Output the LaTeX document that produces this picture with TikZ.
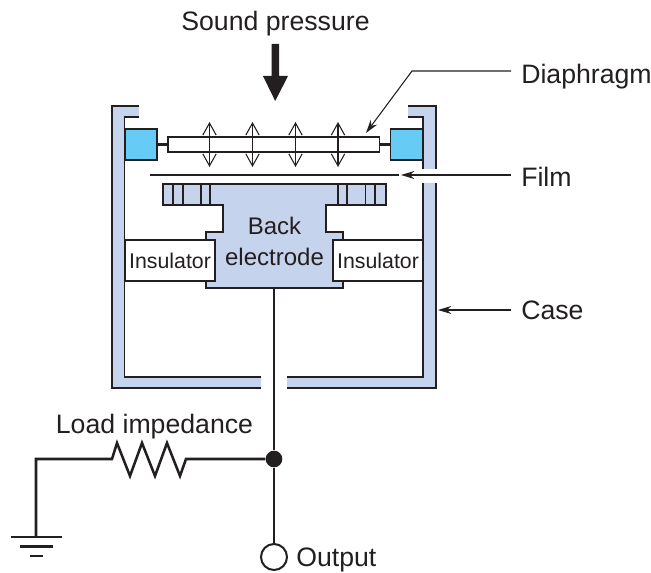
\documentclass[tikz,border=0pt]{standalone}
\usepackage{fontspec}
\setmainfont{Liberation Sans}
\usetikzlibrary{arrows.meta}
\definecolor{ink}{HTML}{231F20}
\definecolor{caseblue}{HTML}{C5D3EC}
\definecolor{padblue}{HTML}{66CCF5}
\tikzset{
  px/.style={x=0.75pt,y=-0.75pt},
  wire/.style={draw=ink,line width=1.9pt},
  thinline/.style={draw=ink,line width=1.1pt},
  leader/.style={draw=ink,line width=0.8pt,-{Stealth[length=10pt,width=6pt]}},
  motion/.style={draw=ink,line width=0.8pt,{Straight Barb[length=9pt,width=10pt]}-{Straight Barb[length=9pt,width=10pt]}},
  label/.style={font=\fontsize{20}{24}\selectfont,text=ink,inner sep=0pt},
  insul/.style={draw=ink,line width=1.1pt,fill=white,minimum width=67.5pt,minimum height=30.75pt,inner sep=0pt,
     font=\fontsize{16}{19}\selectfont,text=ink},
  pad/.style={draw=ink,line width=1.1pt,fill=padblue,minimum width=24pt,minimum height=23.5pt,inner sep=0pt},
  membrane/.style={draw=ink,line width=1.1pt,fill=white,minimum width=158.5pt,minimum height=11.25pt,inner sep=0pt}
}
\begin{document}
\begin{tikzpicture}[px]
\useasboundingbox (0,0) rectangle (651,573);
% case
\fill[caseblue] (139,106) -- (112,106) -- (112,388) -- (261,388) -- (261,377) -- (124.5,377) -- (124.5,117) -- (139,117) -- cycle;
\fill[caseblue] (408,106) -- (436,106) -- (436,169) -- (423,169) -- (423,117) -- (408,117) -- cycle;
\fill[caseblue] (436,183) -- (436,388) -- (287,388) -- (287,377) -- (423,377) -- (423,183) -- cycle;
\draw[draw=ink,line width=1.6pt] (139,106) -- (112,106) -- (112,388) -- (261,388);
\draw[thinline] (139,117) -- (124.5,117) -- (124.5,377) -- (261,377);
\draw[draw=ink,line width=1.6pt] (408,106) -- (436,106) -- (436,169);
\draw[thinline] (408,117) -- (423,117) -- (423,169);
\draw[draw=ink,line width=1.6pt] (436,183) -- (436,388) -- (287,388);
\draw[thinline] (423,183) -- (423,377) -- (287,377);
% back electrode
\draw[thinline,fill=caseblue] (163,184) -- (386,184) -- (386,205) -- (326,205) -- (326,232) -- (343,232) -- (343,288) -- (206,288) -- (206,232) -- (223,232) -- (223,205) -- (163,205) -- cycle;
\draw[thinline] (173,184) -- (173,205) (183,184) -- (183,205) (201,184) -- (201,205) (210,184) -- (210,205)
  (338,184) -- (338,205) (347,184) -- (347,205) (365.5,184) -- (365.5,205) (375,184) -- (375,205);
\node[insul] (insL) at (170,260.5) {Insulator};
\node[insul] (insR) at (378,260.5) {Insulator};
\node[font=\fontsize{18}{22}\selectfont,text=ink,inner sep=0pt,anchor=base] (back) at (274.5,235) {Back};
\node[font=\fontsize{18}{22}\selectfont,text=ink,inner sep=0pt,anchor=base] (elec) at (274.5,265.5) {electrode};
% diaphragm
\node[pad] (padL) at (141,144.5) {};
\node[pad] (padR) at (406.5,144.5) {};
\node[membrane] (diaph) at (273.7,144.5) {};
\draw[wire] (padL) -- (diaph);
\draw[wire] (diaph) -- (padR);
\foreach \n/\x in {a/209.5,b/252.5,c/295.5,d/338}{
  \coordinate (\n t) at (\x,122);
  \coordinate (\n b) at (\x,167);
  \draw[motion] (\n t) -- (\n b);
}
% film
\coordinate (filmL) at (150,175);
\coordinate (filmR) at (399,175);
\draw[draw=ink,line width=2.1pt] (filmL) -- (filmR);
% labels
\node[label,anchor=base] (sound) at (275.5,31) {Sound pressure};
\node[label,anchor=base west] (ldiaph) at (521,84) {Diaphragm};
\node[label,anchor=base west] (lfilm) at (521,186.5) {Film};
\node[label,anchor=base west] (lcase) at (521,320) {Case};
\node[label,anchor=base] (lload) at (154.5,434) {Load impedance};
% leaders
\coordinate (dbend) at (412,71);
\coordinate (dtip) at (366,133);
\coordinate (dstart) at (511,71);
\draw[leader] (dstart) -- (dbend) -- (dtip);
\coordinate (fstart) at (511,175);
\coordinate (ftip) at (401,175);
\draw[leader] (fstart) -- (ftip);
\coordinate (cstart) at (511,310);
\coordinate (ctip) at (438,310);
\draw[leader] (cstart) -- (ctip);
% sound arrow
\fill[ink] (271.5,44) -- (279,44) -- (279,76) -- (288,76) -- (275.2,101) -- (263,76) -- (271.5,76) -- cycle;
% circuit
\coordinate (eb) at (274,288);
\node[circle,fill=ink,minimum size=12.5pt,inner sep=0pt] (junction) at (274,459) {};
\node[circle,draw=ink,line width=1.5pt,fill=white,minimum size=19.5pt,inner sep=0pt] (out) at (274,557) {};
\node[label,anchor=base west] (lout) at (296,567) {Output};
\draw[wire] (eb) -- (junction);
\draw[wire] (junction) -- (out);
\coordinate (gnd) at (36,537);
\draw[wire,line join=miter] (gnd) -- (36,459) -- (112,459) -- (117,443) -- (130,476) -- (142,443) -- (155,476) -- (167,443) -- (180,476) -- (186,459) -- (junction);
\draw[wire] (11,537) -- (62,537);
\draw[wire] (20,546.5) -- (53,546.5);
\draw[wire] (30,556) -- (43,556);
\end{tikzpicture}
\end{document}
